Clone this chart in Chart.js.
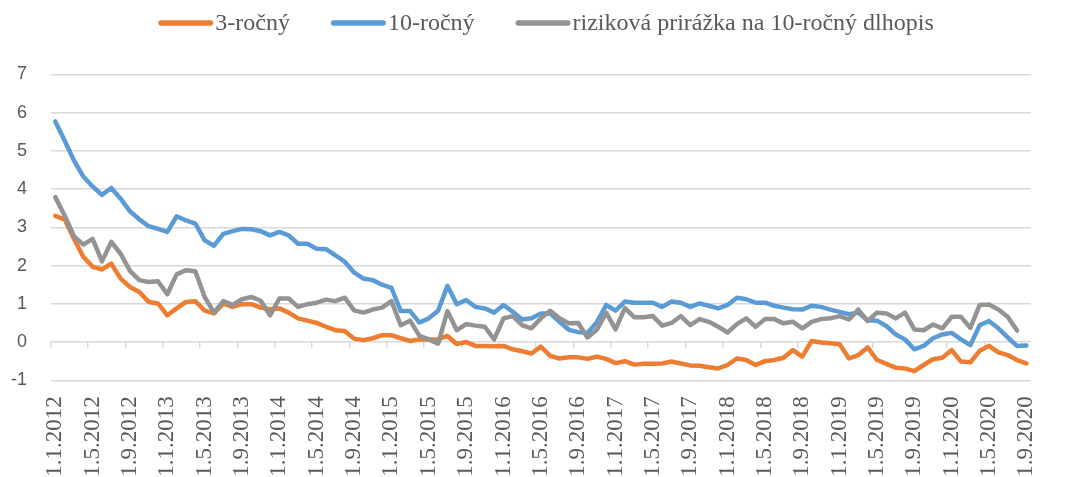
<!DOCTYPE html>
<html>
<head>
<meta charset="utf-8">
<script src="https://cdn.jsdelivr.net/npm/chart.js@4/dist/chart.umd.min.js"></script>
<style>
  html, body { margin: 0; padding: 0; background: #ffffff; }
  #wrap { width: 1070px; height: 477px; }
</style>
</head>
<body>
<div id="wrap"><canvas id="c" width="1070" height="477"></canvas></div>
<script>
// ---- Data (monthly, 1.1.2012 – 1.9.2020) ----
const SERIES_NAMES = ['3-ročný', '10-ročný', 'riziková prirážka na 10-ročný dlhopis'];

const TICK_LABELS = [
  '1.1.2012','1.5.2012','1.9.2012','1.1.2013','1.5.2013','1.9.2013','1.1.2014','1.5.2014','1.9.2014',
  '1.1.2015','1.5.2015','1.9.2015','1.1.2016','1.5.2016','1.9.2016','1.1.2017','1.5.2017','1.9.2017',
  '1.1.2018','1.5.2018','1.9.2018','1.1.2019','1.5.2019','1.9.2019','1.1.2020','1.5.2020','1.9.2020'
];

const CATEGORIES = [];
for (let y = 2012; y <= 2020; y++) {
  for (let m = 1; m <= 12; m++) {
    if (y === 2020 && m > 9) break;
    CATEGORIES.push('1.' + m + '.' + y);
  }
}

const Y3 = [
  3.30, 3.21, 2.70, 2.23, 1.97, 1.90, 2.05, 1.66, 1.44, 1.31, 1.05, 1.01,
  0.70, 0.88, 1.05, 1.07, 0.82, 0.75, 1.01, 0.92, 0.99, 0.99, 0.90, 0.86,
  0.88, 0.77, 0.62, 0.56, 0.50, 0.40, 0.31, 0.29, 0.09, 0.05, 0.10, 0.18,
  0.18, 0.10, 0.03, 0.07, 0.07, 0.07, 0.16, -0.05, 0.00, -0.10, -0.10, -0.11,
  -0.10, -0.19, -0.24, -0.30, -0.12, -0.36, -0.43, -0.40, -0.40, -0.44, -0.38, -0.44,
  -0.55, -0.50, -0.59, -0.57, -0.57, -0.56, -0.51, -0.56, -0.61, -0.62, -0.66, -0.69,
  -0.60, -0.43, -0.47, -0.60, -0.50, -0.47, -0.41, -0.21, -0.38, 0.03, -0.01, -0.03,
  -0.06, -0.43, -0.34, -0.14, -0.47, -0.57, -0.67, -0.69, -0.76, -0.60, -0.45, -0.41,
  -0.21, -0.51, -0.53, -0.23, -0.10, -0.27, -0.34, -0.47, -0.56
];

const Y10 = [
  5.77, 5.27, 4.75, 4.33, 4.07, 3.85, 4.03, 3.75, 3.42, 3.21, 3.03, 2.96,
  2.88, 3.29, 3.18, 3.10, 2.66, 2.52, 2.83, 2.90, 2.96, 2.95, 2.90, 2.79,
  2.88, 2.79, 2.57, 2.57, 2.44, 2.43, 2.27, 2.10, 1.82, 1.66, 1.62, 1.50,
  1.42, 0.81, 0.81, 0.51, 0.62, 0.82, 1.47, 0.99, 1.10, 0.92, 0.88, 0.77,
  0.97, 0.79, 0.59, 0.62, 0.75, 0.75, 0.53, 0.32, 0.26, 0.24, 0.52, 0.97,
  0.82, 1.06, 1.03, 1.03, 1.03, 0.92, 1.06, 1.03, 0.92, 1.01, 0.95, 0.88,
  0.97, 1.16, 1.12, 1.03, 1.03, 0.95, 0.90, 0.86, 0.85, 0.95, 0.92, 0.85,
  0.79, 0.73, 0.77, 0.57, 0.56, 0.42, 0.20, 0.07, -0.19, -0.10, 0.10, 0.20,
  0.24, 0.07, -0.08, 0.44, 0.55, 0.36, 0.12, -0.10, -0.09
];

const SPREAD = [
  3.79, 3.31, 2.77, 2.55, 2.70, 2.11, 2.62, 2.31, 1.86, 1.62, 1.57, 1.59,
  1.25, 1.77, 1.88, 1.85, 1.18, 0.77, 1.07, 0.97, 1.12, 1.18, 1.08, 0.70,
  1.14, 1.14, 0.92, 0.99, 1.03, 1.11, 1.07, 1.16, 0.83, 0.77, 0.85, 0.90,
  1.07, 0.44, 0.56, 0.16, 0.07, -0.04, 0.81, 0.31, 0.47, 0.43, 0.40, 0.07,
  0.62, 0.68, 0.44, 0.36, 0.62, 0.82, 0.62, 0.49, 0.50, 0.12, 0.32, 0.77,
  0.33, 0.89, 0.65, 0.65, 0.68, 0.43, 0.50, 0.68, 0.44, 0.60, 0.53, 0.40,
  0.25, 0.47, 0.62, 0.40, 0.60, 0.60, 0.49, 0.53, 0.36, 0.53, 0.60, 0.62,
  0.68, 0.59, 0.85, 0.55, 0.77, 0.75, 0.62, 0.77, 0.33, 0.31, 0.46, 0.36,
  0.66, 0.66, 0.37, 0.97, 0.98, 0.85, 0.66, 0.30
];

const COLORS = ['#ED7D31', '#5B9BD5', '#939393'];
const TEXT_COLOR = '#595959';
const GRID_COLOR = '#d9d9d9';

// ---- custom legend (line sample + text, like the original) ----
const topLegend = {
  id: 'topLegend',
  afterDraw(chart, args, o) {
    const ctx = chart.ctx;
    ctx.save();
    ctx.font = o.fontSize + 'px ' + o.fontFamily;
    const items = chart.data.datasets.map(ds => ({
      text: ds.label, color: ds.borderColor, w: ctx.measureText(ds.label).width
    }));
    const total = items.reduce((s, it) => s + o.lineLen + o.gap + it.w, 0) + o.itemGap * (items.length - 1);
    let x = o.centerX - total / 2;
    const y = o.y;
    items.forEach(it => {
      ctx.strokeStyle = it.color;
      ctx.lineWidth = o.lineWidth;
      ctx.lineCap = 'round';
      ctx.beginPath();
      ctx.moveTo(x + o.lineWidth / 2, y);
      ctx.lineTo(x + o.lineLen - o.lineWidth / 2, y);
      ctx.stroke();
      x += o.lineLen + o.gap;
      ctx.fillStyle = o.color;
      ctx.textAlign = 'left';
      ctx.textBaseline = 'middle';
      ctx.fillText(it.text, x, y + 1);
      x += it.w + o.itemGap;
    });
    ctx.restore();
  }
};

const lineStyle = {
  borderWidth: 4.5,
  pointRadius: 0,
  pointHoverRadius: 0,
  tension: 0,
  fill: false,
  borderJoinStyle: 'round',
  borderCapStyle: 'round'
};

new Chart(document.getElementById('c'), {
  type: 'line',
  data: {
    labels: CATEGORIES,
    datasets: [
      Object.assign({ label: SERIES_NAMES[0], data: Y3, borderColor: COLORS[0], backgroundColor: COLORS[0], order: 2 }, lineStyle),
      Object.assign({ label: SERIES_NAMES[1], data: Y10, borderColor: COLORS[1], backgroundColor: COLORS[1], order: 1 }, lineStyle),
      Object.assign({ label: SERIES_NAMES[2], data: SPREAD, borderColor: COLORS[2], backgroundColor: COLORS[2], order: 0 }, lineStyle)
    ]
  },
  plugins: [topLegend],
  options: {
    responsive: false,
    animation: false,
    events: [],
    layout: { padding: { top: 74.4, right: 6, bottom: 0, left: 0 } },
    plugins: {
      legend: { display: false },
      tooltip: { enabled: false },
      topLegend: {
        fontSize: 24, fontFamily: '"Liberation Serif", "Times New Roman", serif',
        color: TEXT_COLOR, lineLen: 55, lineWidth: 5.5, gap: 2, itemGap: 41,
        centerX: 546, y: 23
      }
    },
    scales: {
      x: {
        type: 'category',
        offset: true,
        grid: { display: false, drawTicks: false },
        border: { display: false },
        ticks: {
          autoSkip: false,
          minRotation: 90,
          maxRotation: 90,
          padding: 16,
          color: TEXT_COLOR,
          font: { family: '"Liberation Serif", "Times New Roman", serif', size: 23 },
          callback: (v, i) => (i % 4 === 0 ? TICK_LABELS[i / 4] : '')
        },
        afterFit: s => { s.height = 96.7; }
      },
      x2: {
        type: 'category',
        position: { y: 0 },
        offset: true,
        grid: {
          offset: true,
          drawOnChartArea: false,
          drawTicks: true,
          tickLength: 6,
          lineWidth: 1.5,
          color: c => (c.index % 4 === 0 ? GRID_COLOR : 'rgba(0,0,0,0)')
        },
        border: { display: false },
        ticks: { display: false, autoSkip: false }
      },
      y: {
        min: -1,
        max: 7,
        grid: { color: GRID_COLOR, lineWidth: 1.5, drawTicks: false },
        border: { display: false },
        ticks: {
          stepSize: 1,
          padding: 23.6,
          color: TEXT_COLOR,
          font: { family: '"Liberation Sans", Arial, sans-serif', size: 18 }
        },
        afterFit: s => { s.width = 50.6; }
      }
    }
  }
});
</script>
</body>
</html>
